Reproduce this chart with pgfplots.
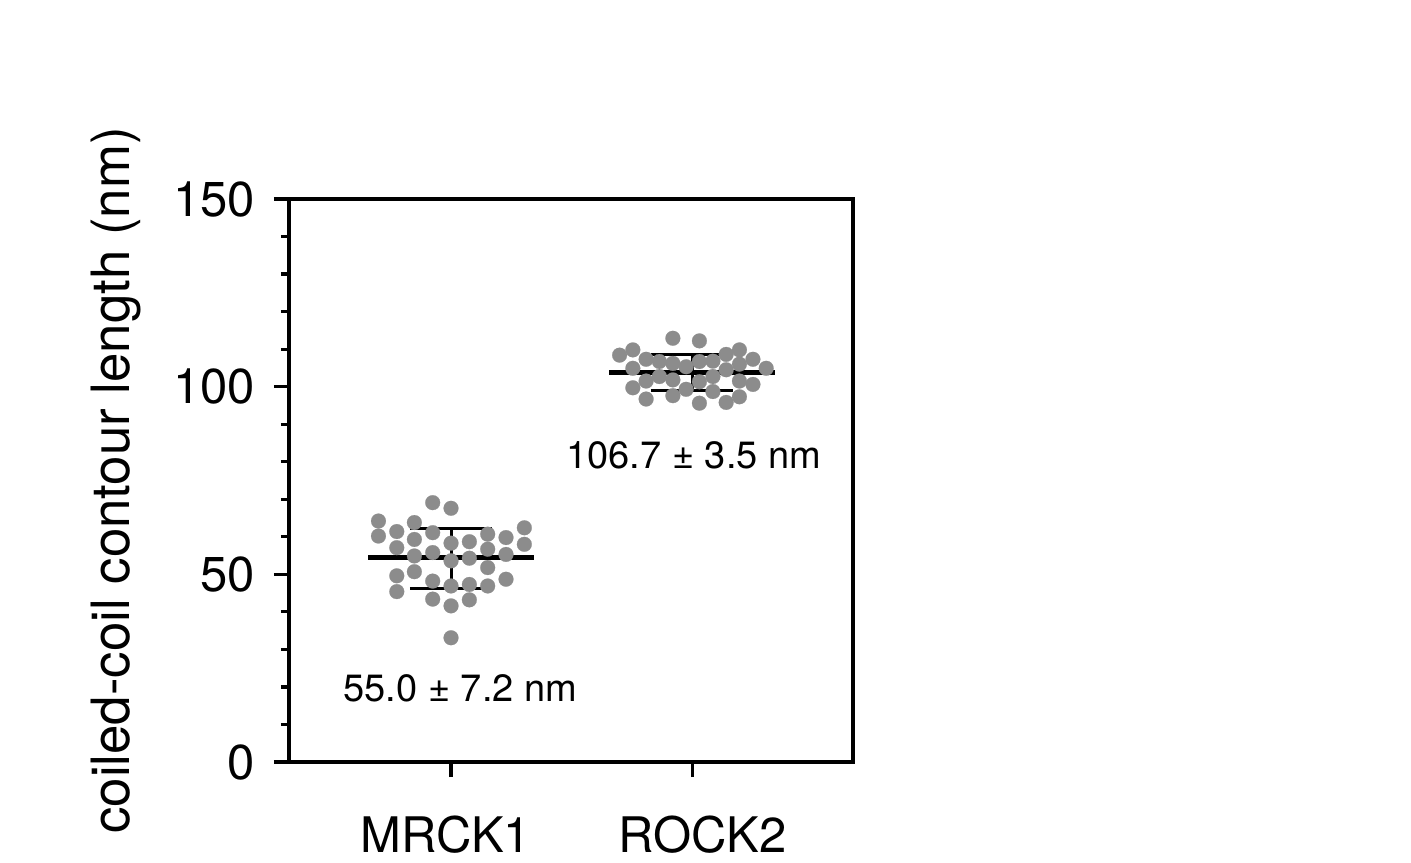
\documentclass[border=0pt]{standalone}
\usepackage{pgfplots}
\pgfplotsset{compat=1.18}
\usepackage{fontspec}
\setmainfont{TeX Gyre Heros}
\usetikzlibrary{calc}
\definecolor{dotgray}{RGB}{140,140,140}
\begin{document}
\begin{tikzpicture}
\begin{axis}[
  scale only axis,
  width=282pt, height=281.5pt,
  xmin=-0.672, xmax=1.667,
  ymin=0, ymax=150,
  axis line style={line width=1.6pt},
  every tick/.style={line width=1.6pt, black},
  tick align=outside,
  xtick pos=bottom, ytick pos=left,
  xtick={0,1},
  xticklabels={\kern-5pt MRCK1,\kern10.5pt ROCK2},
  ytick={0,50,100,150},
  minor y tick num=4,
  major tick length=7.5pt,
  minor tick length=4pt,
  /pgf/number format/assume math mode=true,
  yticklabel style={font=\fontsize{24.5}{29}\selectfont, xshift=-6pt},
  xticklabel style={font=\fontsize{24.5}{29}\selectfont, yshift=-16pt},
  ylabel={coiled-coil contour length (nm)},
  ylabel style={font=\fontsize{26.4}{30}\selectfont, at={(axis description cs:-0.306,0.5)}, anchor=center},
  clip=false,
]
% MRCK1 individual measurements
\addplot[only marks, mark=*, mark size=3.7pt, mark options={draw=dotgray, fill=dotgray, line width=0.1pt}] coordinates {
(-0.076,69.1) (0.000,67.6) (-0.301,64.2) (-0.301,60.2) (-0.225,61.4)
(-0.152,63.8) (-0.152,59.3) (-0.076,61.1) (-0.225,57.1) (-0.152,54.9)
(-0.076,55.8) (0.000,58.3) (0.076,58.7) (0.000,53.6) (0.076,54.3)
(0.152,60.7) (0.152,56.7) (0.152,51.8) (0.228,59.8) (0.228,55.3)
(0.304,62.4) (0.304,58.0) (-0.225,49.6) (-0.225,45.4) (-0.152,50.7)
(-0.076,48.2) (-0.076,43.4) (0.000,46.9) (0.000,41.6) (0.076,47.3)
(0.076,43.2) (0.152,46.9) (0.228,48.7) (0.000,33.1)
};
% ROCK2 individual measurements
\addplot[only marks, mark=*, mark size=3.7pt, mark options={draw=dotgray, fill=dotgray, line width=0.1pt}] coordinates {
(0.920,112.9) (1.030,112.2) (0.699,108.4) (0.754,109.8) (0.809,107.3)
(0.754,104.9) (0.864,106.7) (0.920,106.2) (0.975,105.3) (1.030,106.7)
(1.086,106.8) (1.141,108.6) (1.196,109.8) (1.252,107.3) (1.307,104.9)
(1.196,106.0) (1.141,104.5) (0.809,101.5) (0.754,99.7) (0.809,96.7)
(0.864,102.7) (0.920,101.8) (0.920,97.6) (0.975,99.3) (1.030,101.3)
(1.030,95.6) (1.086,102.7) (1.086,98.7) (1.141,95.8) (1.196,97.3)
(1.196,101.5) (1.252,100.6)
};
% means
\addplot[black, line width=2.5pt] coordinates {(-0.344,54.4) (0.344,54.4)};
\addplot[black, line width=2.5pt] coordinates {(0.656,103.7) (1.344,103.7)};
% error bars MRCK1
\addplot[black, line width=1.5pt] coordinates {(0,46.3) (0,62.3)};
\addplot[black, line width=1.5pt] coordinates {(-0.171,62.3) (0.171,62.3)};
\addplot[black, line width=1.5pt] coordinates {(-0.171,46.3) (0.171,46.3)};
% error bars ROCK2
\addplot[black, line width=1.5pt] coordinates {(1,99.1) (1,108.6)};
\addplot[black, line width=1.5pt] coordinates {(0.829,108.6) (1.171,108.6)};
\addplot[black, line width=1.5pt] coordinates {(0.829,99.1) (1.171,99.1)};
\node[anchor=base, font=\fontsize{19}{23}\selectfont] at (axis cs:1.007,78.1) {106.7 ± 3.5 nm};
\node[anchor=base, font=\fontsize{19}{23}\selectfont] at (axis cs:0.039,16.0) {55.0 ± 7.2 nm};
\end{axis}
\pgfresetboundingbox
\path[use as bounding box] ($(current axis.south west)+(-144.5pt,-50pt)$) rectangle ($(current axis.north east)+(279pt,99.5pt)$);
\end{tikzpicture}
\end{document}
